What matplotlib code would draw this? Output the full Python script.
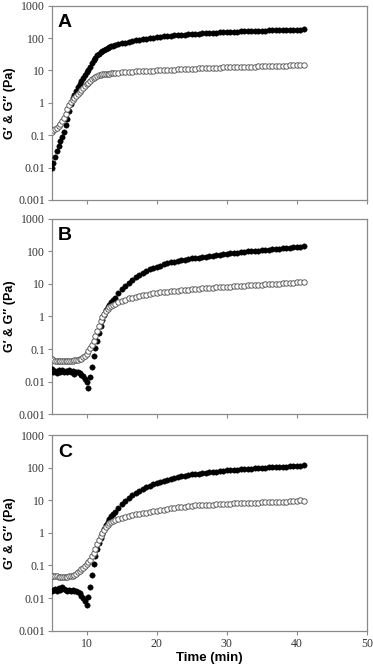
import matplotlib
matplotlib.use('Agg')
import matplotlib.pyplot as plt

# sampling times (min), denser during gelation onset
t_early = [5.0, 5.25, 5.5, 5.75, 6.0, 6.25, 6.5, 6.75, 7.0, 7.25,
           7.5, 7.75, 8.0, 8.25, 8.5, 8.75, 9.0, 9.25, 9.5, 9.75,
           10.0, 10.25, 10.5, 10.75, 11.0, 11.25, 11.5, 11.75, 12.0, 12.25,
           12.5, 12.75, 13.0, 13.25, 13.5, 13.75, 14.0]
t_late = [14.5, 15.0, 15.5, 16.0, 16.5, 17.0, 17.5, 18.0, 18.5, 19.0,
          19.5, 20.0, 20.5, 21.0, 21.5, 22.0, 22.5, 23.0, 23.5, 24.0,
          24.5, 25.0, 25.5, 26.0, 26.5, 27.0, 27.5, 28.0, 28.5, 29.0,
          29.5, 30.0, 30.5, 31.0, 31.5, 32.0, 32.5, 33.0, 33.5, 34.0,
          34.5, 35.0, 35.5, 36.0, 36.5, 37.0, 37.5, 38.0, 38.5, 39.0,
          39.5, 40.0, 40.5, 41.0]
time = t_early + t_late

# panel A
a_gp = [0.0095, 0.014, 0.021, 0.032, 0.047, 0.065, 0.09, 0.13, 0.2, 0.32,
        0.55, 0.95, 1.4, 1.8, 2.3, 3.0, 3.8, 4.7, 5.8, 7.1,
        8.7, 10.5, 13, 16.5, 21, 25, 29, 33, 37, 40,
        43, 46, 49, 52, 55, 57, 59,
        64, 68, 72, 76, 80, 84, 87, 90, 94, 98,
        102, 106, 109, 112, 115, 118, 120, 123, 125, 127,
        130, 132, 134, 136, 138, 140, 142, 144, 146, 148,
        150, 152, 154, 156, 157, 159, 161, 162, 164, 165,
        167, 168, 170, 171, 173, 174, 175, 177, 178, 179,
        181, 182, 183, 185]
a_gpp = [0.13, 0.14, 0.155, 0.17, 0.19, 0.22, 0.27, 0.34, 0.46, 0.65,
         0.88, 1.05, 1.25, 1.45, 1.65, 1.9, 2.15, 2.4, 2.8, 3.2,
         3.7, 4.2, 4.7, 5.3, 5.9, 6.4, 6.8, 7.1, 7.3, 7.5,
         7.6, 7.8, 7.9, 8.0, 8.1, 8.2, 8.3,
         8.5, 8.7, 8.8, 9.0, 9.1, 9.3, 9.4, 9.5, 9.7, 9.8,
         9.9, 10.0, 10.2, 10.3, 10.4, 10.5, 10.6, 10.8, 10.9, 11.0,
         11.1, 11.2, 11.3, 11.5, 11.6, 11.7, 11.8, 11.9, 12.0, 12.2,
         12.3, 12.4, 12.5, 12.6, 12.7, 12.8, 12.9, 13.0, 13.1, 13.2,
         13.3, 13.4, 13.5, 13.6, 13.7, 13.8, 13.9, 14.0, 14.1, 14.2,
         14.3, 14.4, 14.5, 14.8]

# panel B
b_gp = [0.024, 0.019, 0.021, 0.018, 0.022, 0.020, 0.023, 0.020, 0.021, 0.019,
        0.022, 0.020, 0.021, 0.017, 0.020, 0.019, 0.018, 0.016, 0.015, 0.012,
        0.010, 0.0065, 0.014, 0.027, 0.06, 0.11, 0.18, 0.3, 0.5, 0.8,
        1.15, 1.55, 1.9, 2.3, 2.7, 3.2, 3.8,
        5.2, 6.9, 8.8, 11, 13.5, 16, 19, 22, 25, 28,
        31, 34, 37, 40, 43, 46, 48, 51, 53, 56,
        58, 61, 63, 65, 68, 70, 72, 75, 77, 80,
        82, 85, 87, 90, 92, 95, 97, 100, 102, 105,
        107, 110, 112, 115, 118, 120, 123, 126, 129, 132,
        135, 138, 142, 150]
b_gpp = [0.048, 0.045, 0.043, 0.042, 0.044, 0.042, 0.043, 0.044, 0.043, 0.044,
         0.043, 0.044, 0.044, 0.045, 0.045, 0.046, 0.048, 0.051, 0.055, 0.062,
         0.072, 0.086, 0.105, 0.135, 0.18, 0.25, 0.36, 0.52, 0.72, 0.95,
         1.2, 1.45, 1.7, 1.9, 2.1, 2.25, 2.4,
         2.7, 3.0, 3.3, 3.6, 3.8, 4.1, 4.3, 4.5, 4.7, 4.9,
         5.1, 5.3, 5.5, 5.7, 5.8, 6.0, 6.1, 6.3, 6.4, 6.6,
         6.7, 6.9, 7.0, 7.1, 7.3, 7.4, 7.5, 7.7, 7.8, 7.9,
         8.1, 8.2, 8.3, 8.5, 8.6, 8.7, 8.9, 9.0, 9.1, 9.3,
         9.4, 9.5, 9.7, 9.8, 10.0, 10.1, 10.3, 10.5, 10.7, 10.9,
         11.1, 11.3, 11.5, 11.8]

# panel C
c_gp = [0.016, 0.018, 0.019, 0.017, 0.021, 0.018, 0.022, 0.019, 0.018, 0.017,
        0.018, 0.017, 0.018, 0.016, 0.017, 0.015, 0.014, 0.012, 0.010, 0.008,
        0.006, 0.011, 0.022, 0.05, 0.11, 0.19, 0.32, 0.5, 0.7, 0.95,
        1.3, 1.7, 2.2, 2.7, 3.2, 3.8, 4.4,
        5.8, 7.6, 9.5, 11.5, 14, 16.5, 19, 22, 25, 28,
        31, 34, 37, 40, 43, 46, 49, 52, 54, 57,
        59, 62, 64, 66, 68, 70, 72, 74, 76, 78,
        80, 82, 84, 86, 87, 89, 90, 92, 93, 95,
        96, 98, 99, 101, 102, 104, 105, 107, 108, 110,
        112, 114, 116, 118]
c_gpp = [0.048, 0.047, 0.046, 0.046, 0.045, 0.045, 0.044, 0.044, 0.044, 0.045,
         0.046, 0.047, 0.049, 0.052, 0.056, 0.062, 0.069, 0.077, 0.086, 0.097,
         0.11, 0.125, 0.15, 0.19, 0.25, 0.33, 0.45, 0.6, 0.78, 1.0,
         1.25, 1.5, 1.75, 1.95, 2.15, 2.3, 2.45,
         2.7, 2.9, 3.1, 3.3, 3.5, 3.7, 3.85, 4.0, 4.2, 4.4,
         4.6, 4.8, 5.0, 5.2, 5.4, 5.6, 5.8, 6.0, 6.2, 6.4,
         6.6, 6.8, 6.9, 7.0, 7.1, 7.2, 7.3, 7.4, 7.5, 7.6,
         7.7, 7.8, 7.9, 8.0, 8.0, 8.1, 8.2, 8.3, 8.3, 8.4,
         8.5, 8.6, 8.6, 8.7, 8.8, 8.9, 8.9, 9.0, 9.1, 9.4,
         9.6, 9.8, 10.0, 9.3]

panels = [('A', a_gp, a_gpp), ('B', b_gp, b_gpp), ('C', c_gp, c_gpp)]
y_ticks = [0.001, 0.01, 0.1, 1, 10, 100, 1000]
y_labels = ['0.001', '0.01', '0.1', '1', '10', '100', '1000']
x_ticks = [10, 20, 30, 40, 50]

serif = 'Liberation Serif'
sans = 'Liberation Sans'
spine_col = '#8a8a8a'

fig = plt.figure(figsize=(3.73, 6.68), dpi=100)
boxes = [[0.1386, 0.7006, 0.845, 0.291],
         [0.1386, 0.3802, 0.845, 0.292],
         [0.1386, 0.0558, 0.845, 0.293]]

for i, (letter, gp, gpp) in enumerate(panels):
    ax = fig.add_axes(boxes[i])
    # G' filled, G'' open
    ax.plot(time, gp, 'o', ms=3.9, mfc='black', mec='black', mew=0.3, ls='none', zorder=3)
    ax.plot(time, gpp, 'o', ms=3.9, mfc='white', mec='#555555', mew=0.65, ls='none', zorder=4)
    ax.set_yscale('log')
    ax.set_ylim(0.001, 1000)
    ax.set_xlim(5, 50)
    ax.set_yticks(y_ticks)
    ax.set_yticklabels(y_labels, family=serif, fontsize=8.5, color='#333333')
    ax.minorticks_off()
    ax.set_xticks(x_ticks)
    if i == 2:
        ax.set_xticklabels([str(x) for x in x_ticks], family=serif, fontsize=8.5, color='#333333')
        ax.set_xlabel('Time (min)', family=sans, fontweight='bold', fontsize=9.5, labelpad=2)
    else:
        ax.set_xticklabels([])
    for s in ax.spines.values():
        s.set_color(spine_col)
        s.set_linewidth(0.9)
    ax.tick_params(axis='both', direction='out', length=3, width=0.8, color=spine_col, pad=2)
    ax.set_ylabel('G\u2032 & G\u2033 (Pa)', family=sans, fontweight='bold', fontsize=9)
    ax.yaxis.set_label_coords(-0.112, 0.5)
    ax.text(0.02, 0.89, letter, transform=ax.transAxes, family=sans, fontweight='bold',
            fontsize=14, va='baseline', ha='left')

fig.savefig('out.png', dpi=100)
